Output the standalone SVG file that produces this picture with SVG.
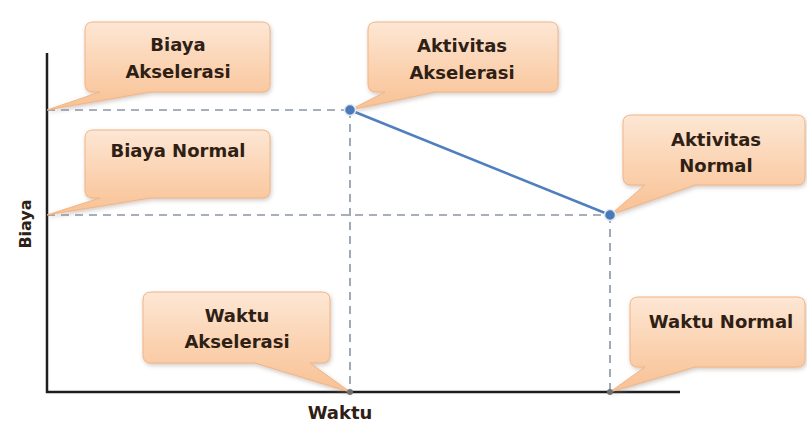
<svg xmlns="http://www.w3.org/2000/svg" width="807" height="423" viewBox="0 0 807 423">
  <defs>
    <linearGradient id="peach" x1="0" y1="0" x2="0" y2="1">
      <stop offset="0" stop-color="#fde7d5"/>
      <stop offset="0.5" stop-color="#fbd3b2"/>
      <stop offset="1" stop-color="#f8c194"/>
    </linearGradient>
    <filter id="shadow" x="-10%" y="-10%" width="125%" height="135%">
      <feDropShadow dx="1" dy="2" stdDeviation="2" flood-color="#9a8a80" flood-opacity="0.45"/>
    </filter>
  </defs>
  <style>
    .dash { stroke: #8a94a8; stroke-width: 1.6; stroke-dasharray: 8 6; fill: none; }
    .axis { stroke: #1e1e1e; stroke-width: 2.5; fill: none; }
    .callout { fill: url(#peach); stroke: #f2b584; stroke-width: 1; filter: url(#shadow); }
    .lbl { font-family: "DejaVu Sans", "Liberation Sans", sans-serif; font-weight: bold; font-size: 18px; fill: #2e2014; text-anchor: middle; }
    .pt { fill: #4a78b8; stroke: #dfe8f5; stroke-width: 1.5; }
  </style>
  <rect width="807" height="423" fill="#ffffff"/>

  <g id="connectors">
    <line class="dash" x1="47" y1="110" x2="350" y2="110"/>
    <line class="dash" x1="47" y1="215" x2="610" y2="215"/>
    <line class="dash" x1="350" y1="110" x2="350" y2="392"/>
    <line class="dash" x1="610" y1="215" x2="610" y2="392"/>
    <polyline class="axis" points="47,53 47,392 680,392"/>
    <line x1="350" y1="110" x2="610" y2="215" stroke="#4f7fbf" stroke-width="2.5"/>
  </g>

  <g id="biaya-akselerasi">
    <path class="callout" d="M93,22 H262 Q270,22 270,30 V84 Q270,92 262,92 H150 L47,110 L100,92 H93 Q85,92 85,84 V30 Q85,22 93,22 Z"/>
    <text class="lbl" x="178" y="51">Biaya</text>
    <text class="lbl" x="178" y="78">Akselerasi</text>
  </g>

  <g id="biaya-normal">
    <path class="callout" d="M93,130 H262 Q270,130 270,138 V190 Q270,198 262,198 H150 L47,215 L100,198 H93 Q85,198 85,190 V138 Q85,130 93,130 Z"/>
    <text class="lbl" x="178" y="157">Biaya Normal</text>
  </g>

  <g id="aktivitas-akselerasi">
    <path class="callout" d="M376,22 H550 Q558,22 558,30 V84 Q558,92 550,92 H435 L350,110 L385,92 H376 Q368,92 368,84 V30 Q368,22 376,22 Z"/>
    <text class="lbl" x="462" y="52">Aktivitas</text>
    <text class="lbl" x="462" y="79">Akselerasi</text>
  </g>

  <g id="aktivitas-normal">
    <path class="callout" d="M631,115 H797 Q805,115 805,123 V177 Q805,185 797,185 H695 L610,215 L645,185 H631 Q623,185 623,177 V123 Q623,115 631,115 Z"/>
    <text class="lbl" x="716" y="146">Aktivitas</text>
    <text class="lbl" x="716" y="172">Normal</text>
  </g>

  <g id="waktu-akselerasi">
    <path class="callout" d="M151,292 H322 Q330,292 330,300 V355 Q330,363 322,363 H310 L350,392 L255,363 H151 Q143,363 143,355 V300 Q143,292 151,292 Z"/>
    <text class="lbl" x="237" y="322">Waktu</text>
    <text class="lbl" x="237" y="348">Akselerasi</text>
  </g>

  <g id="waktu-normal">
    <path class="callout" d="M638,297 H797 Q805,297 805,305 V359 Q805,367 797,367 H695 L610,392 L645,367 H638 Q630,367 630,359 V305 Q630,297 638,297 Z"/>
    <text class="lbl" x="721" y="328">Waktu Normal</text>
  </g>

  <g id="points">
    <circle class="pt" cx="350" cy="110" r="5.5"/>
    <circle class="pt" cx="610" cy="215" r="5.5"/>
    <circle cx="350" cy="392" r="3" fill="#707070"/>
    <circle cx="610" cy="392" r="3" fill="#707070"/>
  </g>

  <g id="axis-labels">
    <text class="lbl" x="340" y="419">Waktu</text>
    <text class="lbl" style="font-size:16px" transform="translate(31,224) rotate(-90)">Biaya</text>
  </g>
</svg>
